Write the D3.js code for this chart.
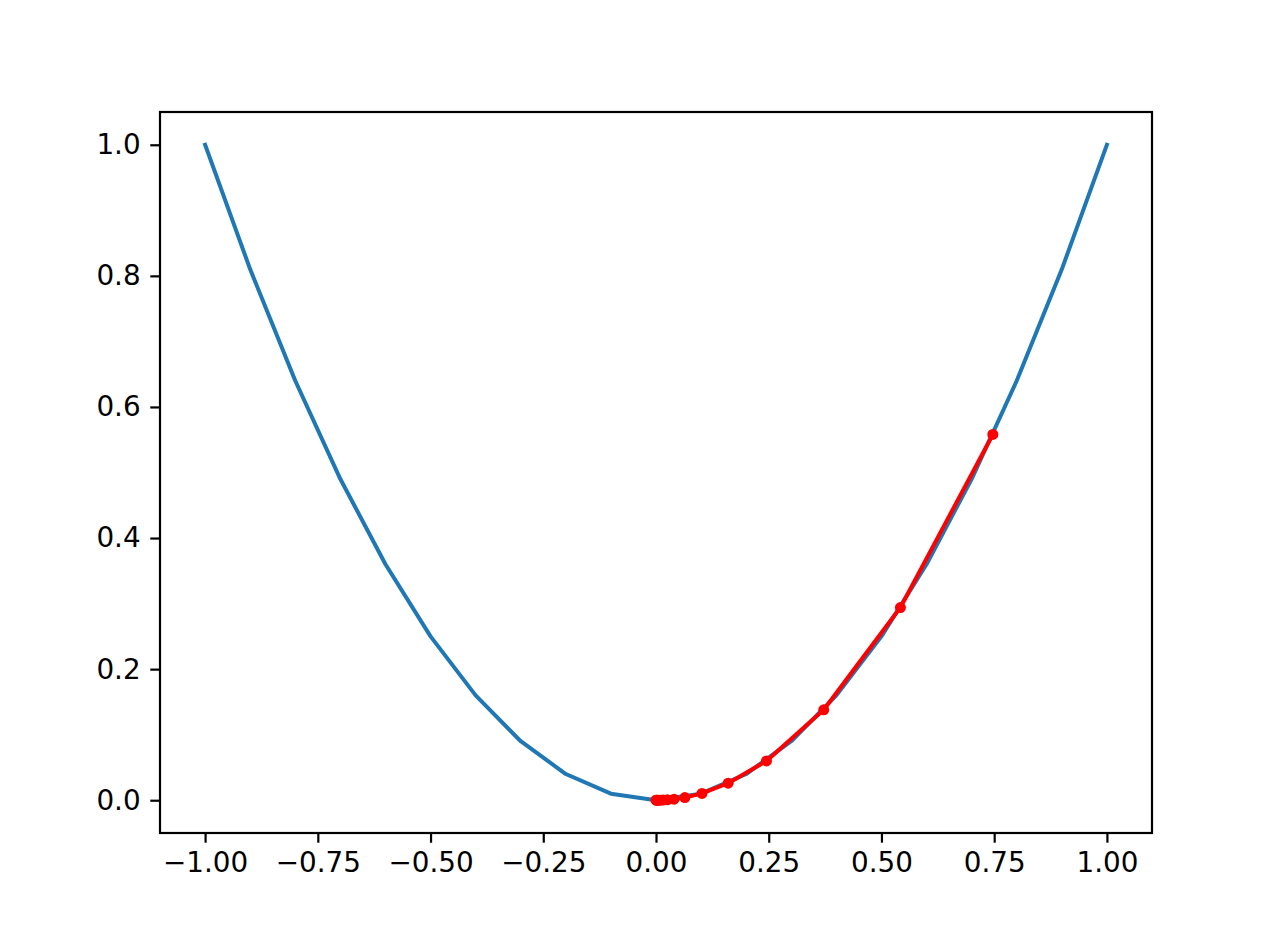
<!DOCTYPE html>
<html>
<head>
<meta charset="utf-8">
<script src="https://cdn.jsdelivr.net/npm/d3@7"></script>
<style>
  body { margin: 0; background: #fff; }
  svg { display: block; font-family: "DejaVu Sans", sans-serif; }
</style>
</head>
<body>
<div id="chart"></div>
<script>
// DATA
var curveX = [-1.0, -0.9, -0.8, -0.7, -0.6, -0.5, -0.4, -0.3, -0.2, -0.1, 0.0,
              0.1, 0.2, 0.3, 0.4, 0.5, 0.6, 0.7, 0.8, 0.9, 1.0];
var curveY = [1.0, 0.81, 0.64, 0.49, 0.36, 0.25, 0.16, 0.09, 0.04, 0.01, 0.0,
              0.01, 0.04, 0.09, 0.16, 0.25, 0.36, 0.49, 0.64, 0.81, 1.0];

var pathX = [0.747, 0.542, 0.372, 0.245, 0.160, 0.102, 0.064, 0.040, 0.025,
             0.016, 0.010, 0.006, 0.003, 0.001, 0.0];
var pathY = [0.558, 0.294, 0.138, 0.060, 0.026, 0.0104, 0.0041, 0.0016, 0.0006,
             0.0003, 0.0001, 0.0, 0.0, 0.0, 0.0];

var xTicks = [-1.0, -0.75, -0.5, -0.25, 0.0, 0.25, 0.5, 0.75, 1.0];
var yTicks = [0.0, 0.2, 0.4, 0.6, 0.8, 1.0];

//SIZE
var W = 1280, H = 938;
var margin = {top: 112, right: 128, bottom: 105, left: 160};
var width = W - margin.left - margin.right,
    height = H - margin.top - margin.bottom;

var svg = d3.select("#chart").append("svg")
  .attr("width", W)
  .attr("height", H);

var g = svg.append("g")
  .attr("transform", `translate(${margin.left}, ${margin.top})`);

//SCALES
var xScale = d3.scaleLinear().domain([-1.1, 1.1]).range([0, width]);
var yScale = d3.scaleLinear().domain([-0.05, 1.05]).range([height, 0]);

g.append("clipPath").attr("id", "clip")
  .append("rect").attr("width", width).attr("height", height);

var line = d3.line()
  .x(function(d) { return xScale(d[0]); })
  .y(function(d) { return yScale(d[1]); });

var plot = g.append("g").attr("clip-path", "url(#clip)");

plot.append("path")
  .datum(d3.zip(curveX, curveY))
  .attr("d", line)
  .attr("fill", "none")
  .attr("stroke", "#1f77b4")
  .attr("stroke-width", 4)
  .attr("stroke-linejoin", "round")
  .attr("stroke-linecap", "square");

var pts = d3.zip(pathX, pathY);

plot.append("path")
  .datum(pts)
  .attr("d", line)
  .attr("fill", "none")
  .attr("stroke", "red")
  .attr("stroke-width", 4)
  .attr("stroke-linejoin", "round");

plot.selectAll("circle.pt")
  .data(pts)
  .enter().append("circle")
  .attr("class", "pt")
  .attr("cx", function(d) { return xScale(d[0]); })
  .attr("cy", function(d) { return yScale(d[1]); })
  .attr("r", 5.5)
  .attr("fill", "red");

//AXES
var xAxis = d3.axisBottom(xScale)
  .tickValues(xTicks)
  .tickFormat(d3.format(".2f"))
  .tickSizeInner(9.7).tickSizeOuter(0).tickPadding(9.7);

var yAxis = d3.axisLeft(yScale)
  .tickValues(yTicks)
  .tickFormat(d3.format(".1f"))
  .tickSizeInner(9.7).tickSizeOuter(0).tickPadding(9.7);

var xg = g.append("g")
  .attr("transform", `translate(0, ${height})`)
  .call(xAxis);
var yg = g.append("g").call(yAxis);

[xg, yg].forEach(function(a) {
  a.select(".domain").remove();
  a.selectAll("line").attr("stroke", "#000").attr("stroke-width", 2.2);
  a.selectAll("text").attr("fill", "#000").style("font-size", "27.8px")
    .style("font-family", "'DejaVu Sans', sans-serif");
});

//FRAME
g.append("rect")
  .attr("width", width)
  .attr("height", height)
  .attr("fill", "none")
  .attr("stroke", "#000")
  .attr("stroke-width", 2.2);
</script>
</body>
</html>
